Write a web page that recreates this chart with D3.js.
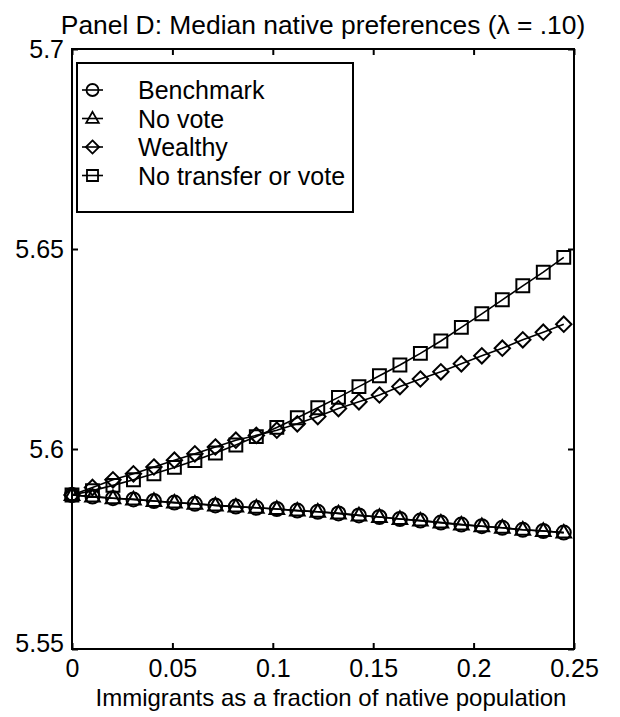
<!DOCTYPE html>
<html><head><meta charset="utf-8">
<script src="https://cdn.jsdelivr.net/npm/d3@7"></script>
<style>
body{margin:0;background:#fff}
svg{display:block}
text{font-family:"Liberation Sans",Arial,Helvetica,sans-serif;fill:#000}
</style>
</head><body>
<svg id="c" width="620" height="717"></svg>
<script>
// ---- data ----
const xValues = [0, 0.0102, 0.0204, 0.0306, 0.0408, 0.0510, 0.0612, 0.0714, 0.0816, 0.0918,
  0.1020, 0.1122, 0.1224, 0.1327, 0.1429, 0.1531, 0.1633, 0.1735, 0.1837, 0.1939,
  0.2041, 0.2143, 0.2245, 0.2347, 0.2449];
const benchmark = [5.5885, 5.5881, 5.5877, 5.5874, 5.5870, 5.5866, 5.5863, 5.5859, 5.5856, 5.5853,
  5.5850, 5.5846, 5.5843, 5.5839, 5.5834, 5.5830, 5.5825, 5.5821, 5.5816, 5.5811,
  5.5807, 5.5803, 5.5798, 5.5795, 5.5791];
const noVote = [5.5885, 5.5881, 5.5877, 5.5874, 5.5870, 5.5866, 5.5863, 5.5859, 5.5856, 5.5853,
  5.5850, 5.5846, 5.5843, 5.5839, 5.5834, 5.5830, 5.5825, 5.5821, 5.5816, 5.5811,
  5.5807, 5.5803, 5.5798, 5.5795, 5.5791];
const wealthy = [5.5885, 5.5904, 5.5923, 5.5938, 5.5955, 5.5972, 5.5988, 5.6005, 5.6022, 5.6034,
  5.6047, 5.6063, 5.6081, 5.6101, 5.6118, 5.6135, 5.6156, 5.6175, 5.6193, 5.6213,
  5.6233, 5.6252, 5.6273, 5.6292, 5.6312];
const noTransfer = [5.5885, 5.5896, 5.5909, 5.5923, 5.5938, 5.5954, 5.5971, 5.5990, 5.6010, 5.6031,
  5.6054, 5.6078, 5.6103, 5.6129, 5.6156, 5.6183, 5.6210, 5.6239, 5.6270, 5.6304,
  5.6338, 5.6373, 5.6408, 5.6442, 5.6479];
const seriesNames = ["Benchmark", "No vote", "Wealthy", "No transfer or vote"];
const seriesMarkers = ["circle", "triangle", "diamond", "square"];
const xTicks = [0, 0.05, 0.1, 0.15, 0.2, 0.25];
const xTickLabels = ["0", "0.05", "0.1", "0.15", "0.2", "0.25"];
const yTicks = [5.55, 5.6, 5.65, 5.7];
const yTickLabels = ["5.55", "5.6", "5.65", "5.7"];
const titleText = "Panel D: Median native preferences (\u03bb = .10)";
const xLabelText = "Immigrants as a fraction of native population";

// ---- layout ----
const L = 72, R = 574, T = 49, B = 649;
const svg = d3.select("#c");
const x = d3.scaleLinear().domain([0, 0.25]).range([L, R]);
const y = d3.scaleLinear().domain([5.55, 5.7]).range([B, T]);

function markerPath(type, s) {
  const p = d3.path();
  if (type === "circle") { p.moveTo(s, 0); p.arc(0, 0, s, 0, 2 * Math.PI); }
  else if (type === "triangle") { const h = s * 1.1; p.moveTo(0, -h); p.lineTo(h * 0.95, h * 0.65); p.lineTo(-h * 0.95, h * 0.65); p.closePath(); }
  else if (type === "diamond") { const h = s * 1.1; p.moveTo(0, -h); p.lineTo(h, 0); p.lineTo(0, h); p.lineTo(-h, 0); p.closePath(); }
  else { const h = s * 0.92; p.rect(-h, -h, 2 * h, 2 * h); }
  return p.toString();
}

const series = [benchmark, noVote, wealthy, noTransfer].map((vals, i) => ({
  name: seriesNames[i], marker: seriesMarkers[i],
  pts: vals.map((v, j) => [xValues[j], v])
}));

const line = d3.line().x(d => x(d[0])).y(d => y(d[1]));
const g = svg.append("g");
series.forEach(s => {
  g.append("path").attr("d", line(s.pts)).attr("fill", "none").attr("stroke", "#000").attr("stroke-width", 1.6);
  g.selectAll(null).data(s.pts).enter().append("path")
    .attr("transform", d => `translate(${x(d[0])},${y(d[1])})`)
    .attr("d", markerPath(s.marker, 7))
    .attr("fill", "none").attr("stroke", "#000").attr("stroke-width", 2);
});

// ---- axes (ticks inward on all four sides) ----
const fs = 25;
const axB = svg.append("g").attr("transform", `translate(0,${B})`)
  .call(d3.axisBottom(x).tickValues(xTicks).tickFormat((d, i) => xTickLabels[i]).tickSizeInner(-6).tickSizeOuter(0).tickPadding(10));
const axT = svg.append("g").attr("transform", `translate(0,${T})`)
  .call(d3.axisTop(x).tickValues(xTicks).tickFormat("").tickSizeInner(-6).tickSizeOuter(0));
const axL = svg.append("g").attr("transform", `translate(${L},0)`)
  .call(d3.axisLeft(y).tickValues(yTicks).tickFormat((d, i) => yTickLabels[i]).tickSizeInner(-6).tickSizeOuter(0).tickPadding(8));
const axR = svg.append("g").attr("transform", `translate(${R},0)`)
  .call(d3.axisRight(y).tickValues(yTicks).tickFormat("").tickSizeInner(-6).tickSizeOuter(0));
[axB, axT, axL, axR].forEach(a => {
  a.select(".domain").remove();
  a.selectAll("line").attr("stroke", "#000").attr("stroke-width", 2);
  a.selectAll("text").style("font-size", fs + "px").attr("fill", "#000")
    .style("font-family", '"Liberation Sans",Arial,sans-serif');
});
// lowest y label sits a little above its tick, as in the reference
axL.selectAll(".tick").filter(d => d === yTicks[0]).select("text").attr("y", -6);
svg.append("rect").attr("x", L).attr("y", T).attr("width", R - L).attr("height", B - T)
  .attr("fill", "none").attr("stroke", "#000").attr("stroke-width", 2);

// ---- legend ----
const lg = svg.append("g");
lg.append("rect").attr("x", 77).attr("y", 63).attr("width", 276).attr("height", 149)
  .attr("fill", "#fff").attr("stroke", "#000").attr("stroke-width", 2);
series.forEach((s, i) => {
  const cy = 90 + i * 28.5;
  lg.append("line").attr("x1", 82).attr("x2", 103).attr("y1", cy).attr("y2", cy).attr("stroke", "#000").attr("stroke-width", 1.6);
  lg.append("path").attr("transform", `translate(92.5,${cy})`).attr("d", markerPath(s.marker, 6))
    .attr("fill", "none").attr("stroke", "#000").attr("stroke-width", 1.8);
  lg.append("text").attr("x", 138).attr("y", cy + 9).style("font-size", "25px").text(s.name);
});

// ---- titles ----
svg.append("text").attr("x", (L + R) / 2).attr("y", 34).attr("text-anchor", "middle").style("font-size", "26.4px").text(titleText);
svg.append("text").attr("x", 331).attr("y", 706).attr("text-anchor", "middle").style("font-size", "24px").text(xLabelText);
</script>
</body></html>
